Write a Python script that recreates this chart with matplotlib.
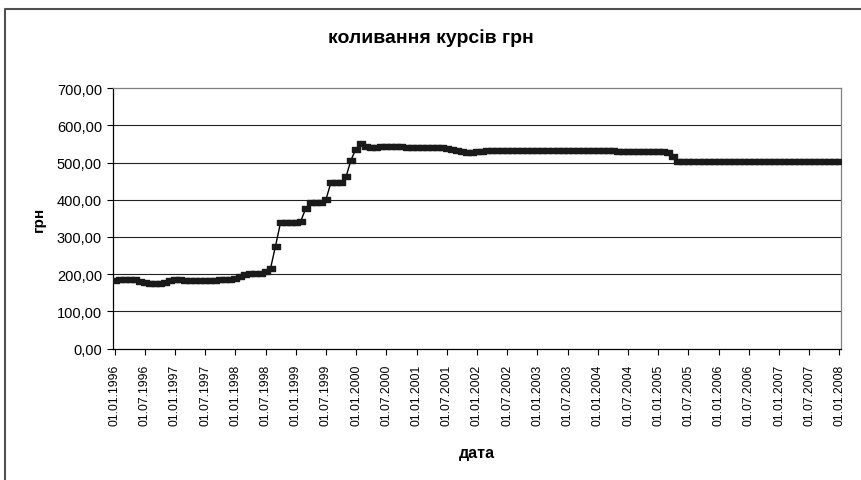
import numpy as np
import pandas as pd
import matplotlib
matplotlib.use("Agg")
import matplotlib.pyplot as plt
from matplotlib.lines import Line2D

plt.rcParams['font.family'] = ['Liberation Sans', 'DejaVu Sans']

# місячні дати 01.01.1996 .. 01.01.2008
dates = pd.date_range('1996-01-01', '2008-01-01', freq='MS')
# курс грн за 100 USD
rates = ([184, 186, 187, 187, 186, 182, 178, 176, 176, 176, 178, 184,
          187, 187, 185, 184, 184, 184, 184, 184, 184, 186, 187, 188,
          190, 194, 200, 202, 202, 204, 209, 216, 277, 340, 340, 341,
          341, 343, 377, 395, 393, 395, 401, 447, 448, 449, 463, 508,
          538, 553, 544, 543, 543, 545, 546, 546, 545, 544, 543, 543,
          543, 543, 543, 543, 543, 543, 540, 537, 534, 530, 529, 529,
          530, 531, 533] + [534] * 25 + [531] * 10 + [528, 518] + [505] * 33)
tick_labels = [d.strftime('%d.%m.%Y') for d in dates[::6]]

x = np.arange(len(dates))

fig = plt.figure(figsize=(8.61, 4.81), dpi=100)
ax = fig.add_axes([113 / 861, 1 - 349.5 / 481, 728 / 861, 260.2 / 481])

box = [(-1, -0.6), (1, -0.6), (1, 0.6), (-1, 0.6), (-1, -0.6)]
ax.plot(x, rates, color='black', lw=1.0, marker=box, markersize=6,
        markerfacecolor='#1a1a1a', markeredgecolor='#1a1a1a', zorder=3)

ax.set_ylim(0, 700)
ax.set_yticks(np.arange(0, 701, 100))
ax.set_yticklabels(['%d,00' % v for v in range(0, 701, 100)])
ax.set_xlim(-0.3, 144.3)
ax.set_xticks(x[::6])
ax.set_xticklabels(tick_labels, rotation=90)

for v in range(100, 700, 100):
    ax.axhline(v, color='#222222', lw=0.8, zorder=1)

ax.spines['top'].set_color('#808080')
ax.spines['right'].set_color('#808080')
ax.spines['left'].set_color('black')
ax.spines['bottom'].set_color('black')
for s in ax.spines.values():
    s.set_linewidth(0.9)

ax.tick_params(axis='y', direction='out', length=4, width=0.8, labelsize=10.5, pad=4)
ax.tick_params(axis='x', direction='out', length=4, width=0.8, labelsize=8.7, pad=7)

fig.text(0.5, 1 - 38 / 481, 'коливання курсів грн', fontsize=14,
         fontweight='bold', ha='center', va='center')
ax.set_ylabel('грн', fontsize=11, fontweight='bold', labelpad=8)
ax.set_xlabel('дата', fontsize=11.5, fontweight='bold', labelpad=14)

# рамка діаграми
fig.add_artist(Line2D([5 / 861, 5 / 861, 1.0], [0.0, 1 - 10 / 481, 1 - 10 / 481],
                      transform=fig.transFigure, color='#505050', lw=1.5))

fig.savefig('out.png', dpi=100)
